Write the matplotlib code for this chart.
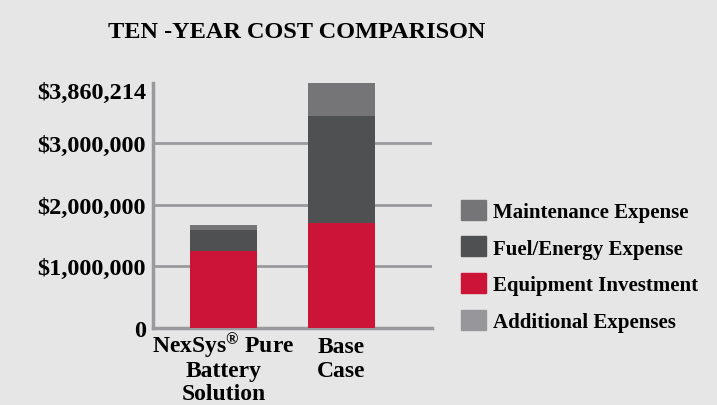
import matplotlib
matplotlib.use("Agg")
import matplotlib.pyplot as plt
import matplotlib.transforms as mtransforms
from matplotlib.patches import Patch

categories = ["NexSys$^{\u00ae}$ Pure\nBattery\nSolution", "Base\nCase"]
equipment = [1250000, 1700000]
fuel = [340000, 1740000]
maintenance = [80000, 590000]
additional = [0, 0]
ytick_values = [0, 1000000, 2000000, 3000000, 3860214]
ytick_labels = ["0", "$1,000,000", "$2,000,000", "$3,000,000", "$3,860,214"]

bg = "#e6e6e6"
c_equip = "#cc1536"
c_fuel = "#4f5052"
c_maint = "#757577"
c_add = "#97979b"
grid_c = "#9a9a9e"

plt.rcParams["font.family"] = ["Liberation Serif", "DejaVu Serif"]
plt.rcParams["font.weight"] = "bold"
plt.rcParams["mathtext.fontset"] = "custom"
plt.rcParams["mathtext.rm"] = "Liberation Serif:bold"
plt.rcParams["mathtext.default"] = "rm"

fig = plt.figure(figsize=(7.17, 4.06), dpi=100, facecolor=bg)
ax = fig.add_axes([0.2134, 0.1897, 0.6025 - 0.2134, 0.793 - 0.1897])
ax.set_facecolor(bg)

x = list(range(len(categories)))
w = 0.57
b1 = equipment
b2 = [e + f for e, f in zip(equipment, fuel)]
b3 = [s + m for s, m in zip(b2, maintenance)]
ax.bar(x, equipment, w, color=c_equip, zorder=3)
ax.bar(x, fuel, w, bottom=b1, color=c_fuel, zorder=3)
ax.bar(x, maintenance, w, bottom=b2, color=c_maint, zorder=3)
ax.bar(x, additional, w, bottom=b3, color=c_add, zorder=3)

ax.set_xlim(-0.597, 1.767)
ax.set_ylim(0, 3970000)
ax.set_yticks(ytick_values)
ax.set_yticklabels(ytick_labels, fontsize=17.5, fontweight="bold")
ax.set_xticks(x)
ax.set_xticklabels([])
ax.tick_params(length=0)
ax.tick_params(axis="y", pad=5)

# category labels drawn line by line so the superscript does not stretch spacing
trans = mtransforms.blended_transform_factory(ax.transData, ax.transAxes)
for xi, lab in zip(x, categories):
    for i, line in enumerate(lab.split("\n")):
        off = mtransforms.ScaledTranslation(0, -(24.5 + i * 23.5) / 100, fig.dpi_scale_trans)
        ax.text(xi, 0, line, transform=trans + off, ha="center", va="baseline",
                fontsize=17, fontweight="bold")

for v in ytick_values[1:4]:
    ax.axhline(v, color=grid_c, lw=2, zorder=1)
for s in ["top", "right"]:
    ax.spines[s].set_visible(False)
for s in ["left", "bottom"]:
    ax.spines[s].set_color(grid_c)
    ax.spines[s].set_linewidth(2.5)

fig.text(0.414, 0.92, "TEN -YEAR COST COMPARISON", ha="center", va="center",
         fontsize=17.5, fontweight="bold")

handles = [Patch(color=c_maint), Patch(color=c_fuel), Patch(color=c_equip), Patch(color=c_add)]
labels = ["Maintenance Expense", "Fuel/Energy Expense", "Equipment Investment", "Additional Expenses"]
fig.legend(handles, labels, loc="upper left", bbox_to_anchor=(0.628, 0.531),
           frameon=False, handlelength=1.2, handleheight=1.1,
           labelspacing=0.7, handletextpad=0.35, borderpad=0,
           prop={"family": "Liberation Serif", "weight": "bold", "size": 15})

fig.savefig("out.png", dpi=100, facecolor=bg)
